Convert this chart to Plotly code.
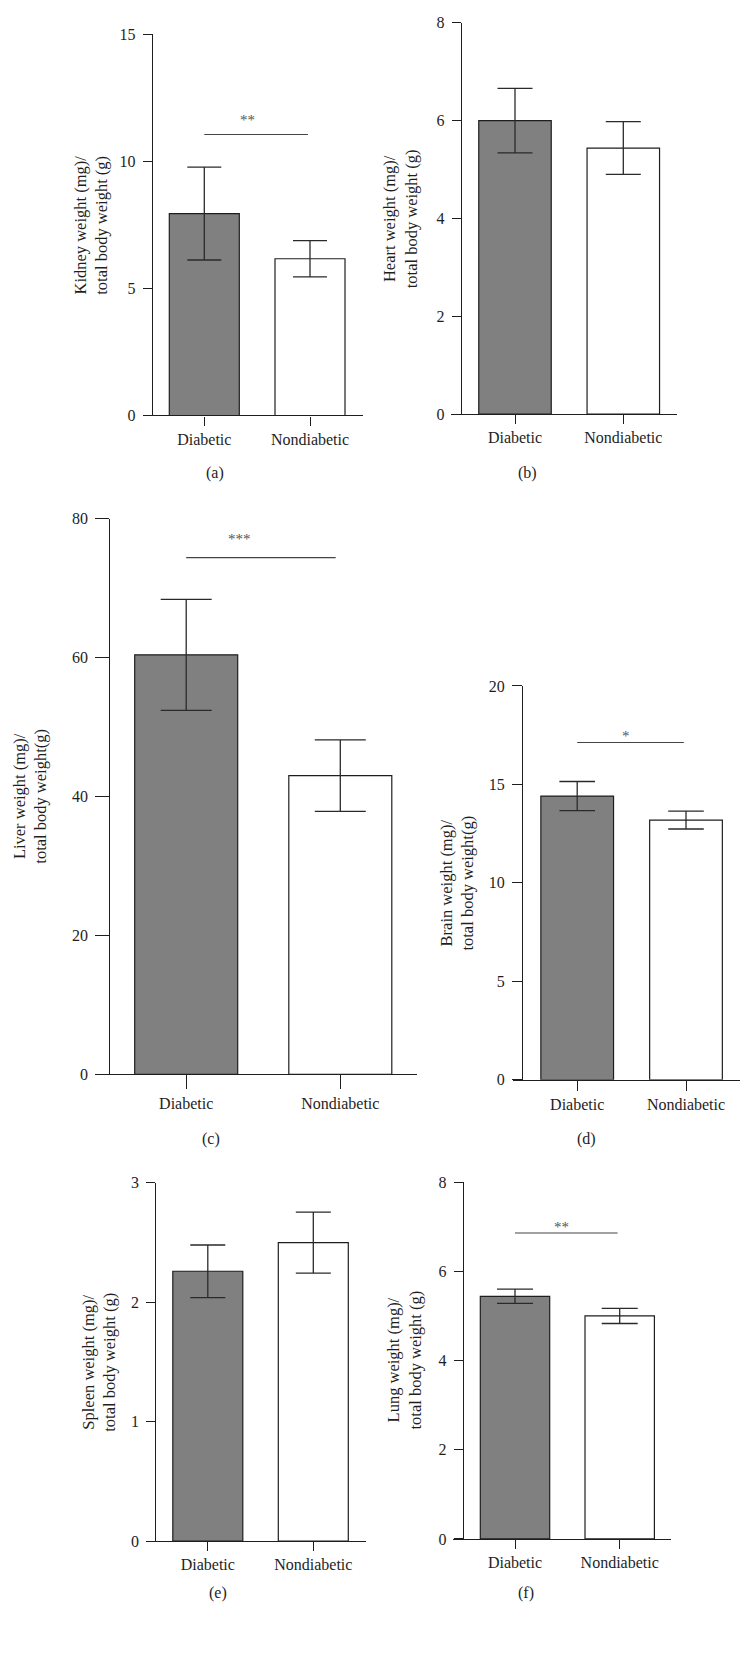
import plotly.graph_objects as go

# ---------------- data ----------------
categories = ["Diabetic", "Nondiabetic"]

kidney_mean = [7.95, 6.17]
kidney_err = [1.83, 0.71]
heart_mean = [6.00, 5.44]
heart_err = [0.66, 0.54]
liver_mean = [60.4, 43.0]
liver_err = [8.0, 5.15]
brain_mean = [14.41, 13.19]
brain_err = [0.74, 0.455]
spleen_mean = [2.26, 2.50]
spleen_err = [0.22, 0.255]
lung_mean = [5.44, 5.00]
lung_err = [0.16, 0.17]

kidney_ticks = [0, 5, 10, 15]
heart_ticks = [0, 2, 4, 6, 8]
liver_ticks = [0, 20, 40, 60, 80]
brain_ticks = [0, 5, 10, 15, 20]
spleen_ticks = [0, 1, 2, 3]
lung_ticks = [0, 2, 4, 6, 8]

y_titles = [
    "Kidney weight (mg)/<br>total body weight (g)",
    "Heart weight (mg)/<br>total body weight (g)",
    "Liver weight (mg)/<br>total body weight(g)",
    "Brain weight (mg)/<br>total body weight(g)",
    "Spleen weight (mg)/<br>total body weight (g)",
    "Lung weight (mg)/<br>total body weight (g)",
]
captions = ["(a)", "(b)", "(c)", "(d)", "(e)", "(f)"]

sig_levels = [11.06, None, 74.4, 17.13, None, 6.86]
sig_labels = ["**", "", "***", "*", "", "**"]

means = [kidney_mean, heart_mean, liver_mean, brain_mean, spleen_mean, lung_mean]
errs = [kidney_err, heart_err, liver_err, brain_err, spleen_err, lung_err]
ticks = [kidney_ticks, heart_ticks, liver_ticks, brain_ticks, spleen_ticks, lung_ticks]

# ---------------- layout (pixels) ----------------
W, H = 751, 1663
layout_px = [
    dict(xa0=142.7, xa1=362.7, xy=151.7, c0=204.3, c1=310.0, bw=70.0, y0=411.7, ytop=26.7,
         cap=17, tl=9, tx=90.8, cx=215.0, cy=469.3, sx=0.41, ss=5, sx1=0.98),
    dict(xa0=451.0, xa1=677.3, xy=460.7, c0=515.0, c1=623.3, bw=72.5, y0=410.3, ytop=15.0,
         cap=17.5, tl=9, tx=400.8, cx=527.3, cy=469.3, sx=0.5, ss=0, sx1=0.98),
    dict(xa0=95.0, xa1=416.7, xy=109.3, c0=186.2, c1=340.3, bw=103.0, y0=1077.3, ytop=516.0,
         cap=25.5, tl=14, tx=29.2, cx=210.7, cy=1142.3, sx=0.345, ss=9, sx1=0.97),
    dict(xa0=512.7, xa1=740.0, xy=522.0, c0=577.2, c1=686.0, bw=72.7, y0=1082.8, ytop=685.0,
         cap=17.8, tl=10, tx=456.7, cx=586.7, cy=1142.3, sx=0.45, ss=-4, sx1=0.98),
    dict(xa0=146.0, xa1=365.7, xy=155.3, c0=207.8, c1=313.3, bw=70.0, y0=1549.0, ytop=1187.0,
         cap=17.5, tl=9, tx=98.7, cx=218.3, cy=1601.7, sx=0.5, ss=0, sx1=0.98),
    dict(xa0=453.3, xa1=671.0, xy=462.7, c0=515.0, c1=619.7, bw=69.4, y0=1546.7, ytop=1186.3,
         cap=18, tl=9, tx=404.0, cx=525.7, cy=1601.7, sx=0.44, ss=-4, sx1=0.98),
]

FONT = "Liberation Serif"
INK = "#1e1e1e"
bar_colors = ["#808080", "#ffffff"]

fig = go.Figure()
idx = list(range(len(categories)))
annotations = []
shapes = []
layout_axes = {}

for i, p in enumerate(layout_px):
    n = i + 1
    d = p["c1"] - p["c0"]
    xr = [-(p["c0"] - p["xa0"]) / d, (len(categories) - 1) + (p["xa1"] - p["c1"]) / d]
    fig.add_trace(go.Bar(
        x=idx, y=means[i], width=p["bw"] / d,
        marker=dict(color=bar_colors, line=dict(color=INK, width=1.2)),
        error_y=dict(type="data", array=errs[i], visible=True, color="#2a2a2a",
                     thickness=1.3, width=p["cap"]),
        xaxis=f"x{n}", yaxis=f"y{n}", showlegend=False, hoverinfo="skip",
    ))
    layout_axes[f"xaxis{n}"] = dict(
        domain=[p["xa0"] / W, p["xa1"] / W], range=xr, anchor=f"y{n}",
        showline=True, linecolor=INK, linewidth=1.2, ticks="outside", ticklen=p["tl"],
        tickwidth=1.2, tickcolor=INK, tickvals=idx, ticktext=categories,
        showgrid=False, zeroline=False, fixedrange=True,
        tickfont=dict(family=FONT, size=16, color=INK),
    )
    layout_axes[f"yaxis{n}"] = dict(
        domain=[1 - p["y0"] / H, 1 - p["ytop"] / H], range=[0, max(ticks[i])],
        anchor="free", position=p["xy"] / W,
        showline=True, linecolor=INK, linewidth=1.2, ticks="outside", ticklen=p["tl"],
        tickwidth=1.2, tickcolor=INK, tickvals=ticks[i], ticklabelstandoff=4,
        showgrid=False, zeroline=False, fixedrange=True,
        tickfont=dict(family=FONT, size=16, color=INK),
    )
    annotations.append(dict(
        xref="paper", yref="paper", x=p["tx"] / W, y=1 - (p["y0"] + p["ytop"]) / 2 / H,
        text=y_titles[i], textangle=-90, showarrow=False, xanchor="center", yanchor="middle",
        font=dict(family=FONT, size=16.5, color=INK),
    ))
    annotations.append(dict(
        xref="paper", yref="paper", x=p["cx"] / W, y=1 - p["cy"] / H,
        text=captions[i], showarrow=False, xanchor="center", yanchor="middle",
        font=dict(family=FONT, size=16, color=INK),
    ))
    if sig_levels[i] is not None:
        shapes.append(dict(
            type="line", xref=f"x{n}", yref=f"y{n}", x0=0, x1=p["sx1"],
            y0=sig_levels[i], y1=sig_levels[i], line=dict(color="#444444", width=1.2),
        ))
        annotations.append(dict(
            xref=f"x{n}", yref=f"y{n}", x=p["sx"], y=sig_levels[i], yshift=p["ss"],
            text=sig_labels[i], showarrow=False, xanchor="center", yanchor="bottom",
            font=dict(family=FONT, size=15, color="#555555"),
        ))

fig.update_layout(
    width=W, height=H, margin=dict(l=0, r=0, t=0, b=0),
    paper_bgcolor="white", plot_bgcolor="white", showlegend=False,
    annotations=annotations, shapes=shapes, **layout_axes,
)

fig.write_html("out.html", config={"displayModeBar": False},
               post_script="document.body.style.margin='0';")
